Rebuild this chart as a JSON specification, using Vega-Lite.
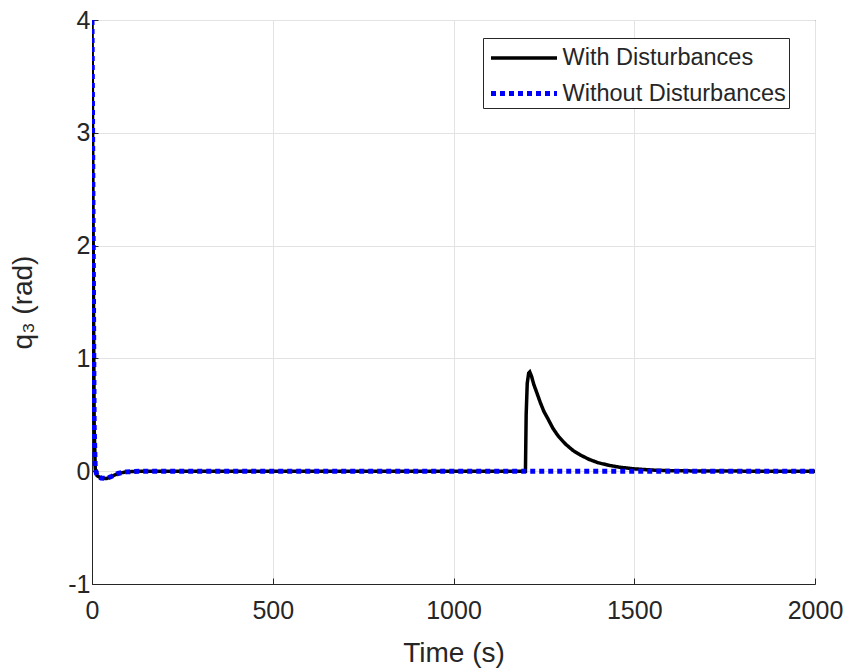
{
  "$schema": "https://vega.github.io/schema/vega-lite/v6.json",
  "width": 723,
  "height": 564,
  "autosize": {"type": "none"},
  "padding": {"left": 92, "top": 20, "right": 31, "bottom": 84},
  "background": "white",
  "config": {
    "font": "Liberation Sans",
    "view": {"stroke": "#262626", "strokeWidth": 1}
  },
  "data": {
    "values": [
      {"t": 0, "v": 4, "s": "With Disturbances"},
      {"t": 3, "v": 2.2, "s": "With Disturbances"},
      {"t": 6, "v": 0.4, "s": "With Disturbances"},
      {"t": 9, "v": 0.02, "s": "With Disturbances"},
      {"t": 14, "v": -0.04, "s": "With Disturbances"},
      {"t": 25, "v": -0.06, "s": "With Disturbances"},
      {"t": 40, "v": -0.065, "s": "With Disturbances"},
      {"t": 55, "v": -0.045, "s": "With Disturbances"},
      {"t": 72, "v": -0.02, "s": "With Disturbances"},
      {"t": 95, "v": -0.006, "s": "With Disturbances"},
      {"t": 130, "v": 0, "s": "With Disturbances"},
      {"t": 600, "v": 0, "s": "With Disturbances"},
      {"t": 1199, "v": 0, "s": "With Disturbances"},
      {"t": 1201, "v": 0.5, "s": "With Disturbances"},
      {"t": 1204, "v": 0.78, "s": "With Disturbances"},
      {"t": 1208, "v": 0.87, "s": "With Disturbances"},
      {"t": 1211, "v": 0.88, "s": "With Disturbances"},
      {"t": 1216, "v": 0.84, "s": "With Disturbances"},
      {"t": 1222, "v": 0.77, "s": "With Disturbances"},
      {"t": 1230, "v": 0.7, "s": "With Disturbances"},
      {"t": 1240, "v": 0.61, "s": "With Disturbances"},
      {"t": 1250, "v": 0.53, "s": "With Disturbances"},
      {"t": 1262, "v": 0.46, "s": "With Disturbances"},
      {"t": 1275, "v": 0.38, "s": "With Disturbances"},
      {"t": 1290, "v": 0.31, "s": "With Disturbances"},
      {"t": 1310, "v": 0.24, "s": "With Disturbances"},
      {"t": 1330, "v": 0.185, "s": "With Disturbances"},
      {"t": 1350, "v": 0.145, "s": "With Disturbances"},
      {"t": 1375, "v": 0.105, "s": "With Disturbances"},
      {"t": 1400, "v": 0.075, "s": "With Disturbances"},
      {"t": 1430, "v": 0.052, "s": "With Disturbances"},
      {"t": 1460, "v": 0.035, "s": "With Disturbances"},
      {"t": 1500, "v": 0.021, "s": "With Disturbances"},
      {"t": 1550, "v": 0.01, "s": "With Disturbances"},
      {"t": 1600, "v": 0.005, "s": "With Disturbances"},
      {"t": 1700, "v": 0.001, "s": "With Disturbances"},
      {"t": 2000, "v": 0, "s": "With Disturbances"},
      {"t": 0, "v": 4, "s": "Without Disturbances"},
      {"t": 3, "v": 2.2, "s": "Without Disturbances"},
      {"t": 6, "v": 0.4, "s": "Without Disturbances"},
      {"t": 9, "v": 0.02, "s": "Without Disturbances"},
      {"t": 14, "v": -0.04, "s": "Without Disturbances"},
      {"t": 25, "v": -0.06, "s": "Without Disturbances"},
      {"t": 40, "v": -0.065, "s": "Without Disturbances"},
      {"t": 55, "v": -0.045, "s": "Without Disturbances"},
      {"t": 72, "v": -0.02, "s": "Without Disturbances"},
      {"t": 95, "v": -0.006, "s": "Without Disturbances"},
      {"t": 130, "v": 0, "s": "Without Disturbances"},
      {"t": 1000, "v": 0, "s": "Without Disturbances"},
      {"t": 2000, "v": 0, "s": "Without Disturbances"}
    ]
  },
  "mark": {"type": "line", "clip": true},
  "encoding": {
    "x": {
      "field": "t",
      "type": "quantitative",
      "scale": {"domain": [0, 2000], "nice": false, "zero": false},
      "axis": {
        "title": "Time (s)",
        "values": [0, 500, 1000, 1500, 2000],
        "labelExpr": "'' + datum.value",
        "labelFontSize": 25,
        "labelColor": "#262626",
        "labelPadding": 20,
        "titleFontSize": 28,
        "titleFontWeight": "normal",
        "titleColor": "#262626",
        "titlePadding": 16,
        "tickSize": -6,
        "tickColor": "#262626",
        "domainColor": "#262626",
        "gridColor": "#e3e3e3",
        "labelFlush": false
      }
    },
    "y": {
      "field": "v",
      "type": "quantitative",
      "scale": {"domain": [-1, 4], "nice": false, "zero": false},
      "axis": {
        "title": "q₃ (rad)",
        "values": [-1, 0, 1, 2, 3, 4],
        "labelExpr": "'' + datum.value",
        "labelFontSize": 25,
        "labelColor": "#262626",
        "labelPadding": 8,
        "titleFontSize": 28,
        "titleFontWeight": "normal",
        "titleColor": "#262626",
        "titlePadding": 30,
        "tickSize": -6,
        "tickColor": "#262626",
        "domainColor": "#262626",
        "gridColor": "#e3e3e3",
        "labelFlush": false
      }
    },
    "color": {
      "field": "s",
      "type": "nominal",
      "scale": {"domain": ["With Disturbances", "Without Disturbances"], "range": ["#000000", "#0000ff"]},
      "legend": {
        "title": null,
        "orient": "none",
        "legendX": 391,
        "legendY": 18,
        "symbolType": "M-2.2,0H2.2",
        "symbolSize": 900,
        "symbolOffset": 20.5,
        "symbolFillColor": "transparent",
        "labelFontSize": 23.5,
        "labelLimit": 400,
        "labelColor": "#262626",
        "strokeColor": "#262626",
        "fillColor": "white",
        "padding": 3,
        "rowPadding": 6,
        "labelOffset": 21
      }
    },
    "strokeDash": {
      "field": "s",
      "type": "nominal",
      "scale": {"domain": ["With Disturbances", "Without Disturbances"], "range": [[1, 0], [5, 4]]}
    },
    "strokeWidth": {
      "field": "s",
      "type": "nominal",
      "scale": {"domain": ["With Disturbances", "Without Disturbances"], "range": [3.5, 5]}
    }
  }
}
